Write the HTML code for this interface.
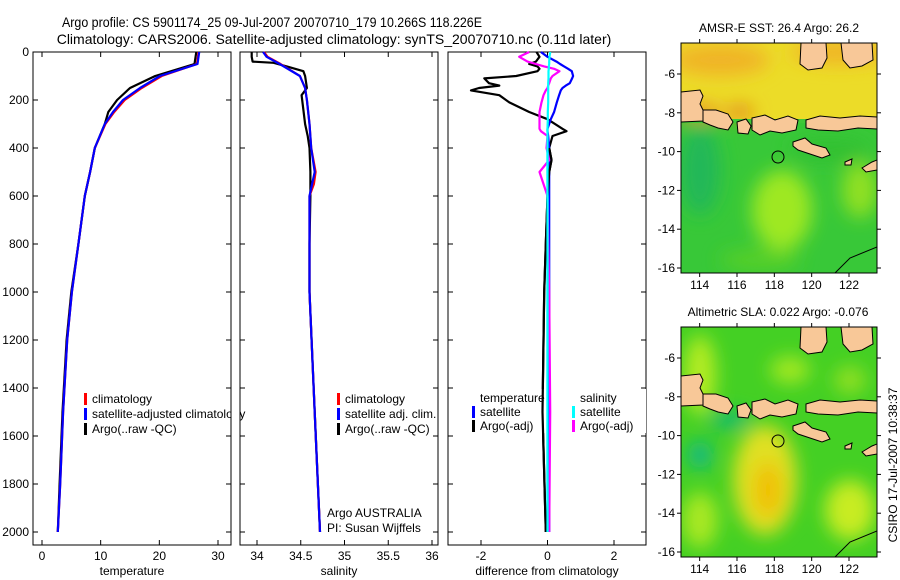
<!DOCTYPE html>
<html><head><meta charset="utf-8"><style>
html,body{margin:0;padding:0;background:#fff;}
svg{display:block;font-family:"Liberation Sans",sans-serif;}
</style></head><body>
<svg id="fig" width="900" height="580" viewBox="0 0 900 580" xmlns="http://www.w3.org/2000/svg">
<defs>
<filter id="blur" x="-20%" y="-20%" width="140%" height="140%"><feGaussianBlur stdDeviation="9"/></filter>
<clipPath id="clipM1"><rect x="681" y="43" width="196" height="230"/></clipPath>
<clipPath id="clipM2"><rect x="681" y="327" width="196" height="230"/></clipPath>
<g id="land" stroke="#000" stroke-width="1" fill="#f8c898">
<path d="M681,92 L700,90 L703,96 L700,104 L704,112 L703,121 L681,122 Z"/>
<path d="M703,110 L716,110 L728,114 L733,122 L728,130 L718,128 L710,125 L703,122 Z"/>
<path d="M737,122 L746,119 L751,126 L748,134 L738,133 Z"/>
<path d="M752,118 L765,115 L775,120 L788,116 L798,120 L796,130 L782,133 L770,131 L760,135 L752,130 Z"/>
<path d="M806,120 L820,116 L840,118 L860,116 L877,117 L877,129 L858,128 L838,131 L818,130 L806,128 Z"/>
<path d="M793,142 L805,138 L812,144 L826,148 L830,155 L822,158 L810,154 L798,150 L793,146 Z"/>
<path d="M801,43 L826,43 L827,58 L822,68 L808,70 L800,64 Z"/>
<path d="M841,43 L872,43 L873,60 L862,66 L850,68 L843,60 Z"/>
<path d="M845,162 L852,159 L851,165 L845,165 Z"/>
<path d="M862,168 L872,162 L877,160 L877,170 L866,172 Z"/>
</g>
</defs>

<!-- Titles -->
<text x="62" y="27" font-size="14" textLength="420" lengthAdjust="spacingAndGlyphs">Argo profile: CS 5901174_25 09-Jul-2007 20070710_179 10.266S 118.226E</text>
<text x="334" y="44" font-size="14" text-anchor="middle">Climatology: CARS2006. Satellite-adjusted climatology: synTS_20070710.nc (0.11d later)</text>

<g id="panels"></g>

<!-- Map 1 -->
<g>
<text x="779" y="32" font-size="12" text-anchor="middle">AMSR-E SST: 26.4 Argo: 26.2</text>
<g clip-path="url(#clipM1)">
<rect x="681" y="43" width="196" height="230" fill="#38c838"/>
<rect x="681" y="43" width="196" height="76" fill="#ecdc28"/>
<g filter="url(#blur)">
<ellipse cx="720" cy="60" rx="50" ry="16" fill="#f0b428"/>
<ellipse cx="840" cy="52" rx="50" ry="12" fill="#f0b428"/>
<ellipse cx="700" cy="112" rx="22" ry="8" fill="#e89420"/>
<ellipse cx="740" cy="112" rx="14" ry="6" fill="#e07818"/>
<ellipse cx="700" cy="170" rx="20" ry="45" fill="#20b858"/>
<ellipse cx="782" cy="210" rx="30" ry="40" fill="#9ee820"/>
<ellipse cx="860" cy="190" rx="18" ry="28" fill="#90e020"/>
<ellipse cx="830" cy="150" rx="40" ry="12" fill="#30c030"/>
<ellipse cx="760" cy="260" rx="40" ry="10" fill="#58d028"/>
</g>
<rect x="681" y="119" width="196" height="4" fill="#40c838"/>
<use href="#land"/>
<path d="M835,273 L850,258 L877,247" fill="none" stroke="#000" stroke-width="1"/>
<circle cx="778" cy="157" r="6" fill="none" stroke="#000" stroke-width="1"/>
</g>
<rect x="681" y="43" width="196" height="230" fill="none" stroke="#000" stroke-width="1"/>
<g id="map1axes"></g>
</g>

<!-- Map 2 -->
<g>
<text x="778" y="316" font-size="12" text-anchor="middle">Altimetric SLA: 0.022 Argo: -0.076</text>
<g clip-path="url(#clipM2)">
<rect x="681" y="327" width="196" height="230" fill="#44d024"/>
<g filter="url(#blur)">
<ellipse cx="700" cy="375" rx="16" ry="40" fill="#b4ec20"/>
<ellipse cx="790" cy="370" rx="20" ry="14" fill="#a0e820"/>
<ellipse cx="850" cy="380" rx="16" ry="14" fill="#90e020"/>
<ellipse cx="700" cy="455" rx="12" ry="14" fill="#10b888"/>
<ellipse cx="730" cy="420" rx="22" ry="8" fill="#10b878"/>
<ellipse cx="765" cy="480" rx="32" ry="55" fill="#e0e020"/>
<ellipse cx="768" cy="490" rx="14" ry="28" fill="#f0c000"/>
<ellipse cx="700" cy="520" rx="18" ry="28" fill="#a8e820"/>
<ellipse cx="850" cy="510" rx="25" ry="30" fill="#c8ec20"/>
</g>
<use href="#land" y="284"/>
<path d="M835,557 L850,542 L877,531" fill="none" stroke="#000" stroke-width="1"/>
<circle cx="778" cy="441" r="6" fill="none" stroke="#000" stroke-width="1"/>
</g>
<rect x="681" y="327" width="196" height="230" fill="none" stroke="#000" stroke-width="1"/>
<g id="map2axes"></g>
</g>

<text transform="translate(897,465) rotate(-90)" font-size="12" text-anchor="middle">CSIRO 17-Jul-2007 10:38:37</text>
</svg>

<script>
// ---- Data ----
const depthT = [0, 50, 100, 150, 200, 250, 300, 400, 500, 600, 800, 1000, 1200, 1500, 1800, 2000];
const climTemp = [26.7, 26.4, 20.4, 17.0, 14.1, 12.3, 10.8, 9.0, 8.2, 7.3, 6.2, 5.1, 4.3, 3.6, 3.1, 2.7];
const satTemp  = [26.8, 26.5, 20.1, 16.7, 13.8, 12.1, 10.7, 9.0, 8.2, 7.3, 6.2, 5.1, 4.3, 3.6, 3.1, 2.7];
const argoTemp = [26.3, 26.0, 19.3, 15.0, 12.8, 11.3, 10.7, 9.0, 8.2, 7.3, 6.2, 5.0, 4.2, 3.5, 3.0, 2.7];

const depthS = [0, 20, 50, 100, 150, 200, 300, 400, 500, 550, 600, 800, 1000, 1500, 2000];
const climSal = [34.08, 34.12, 34.27, 34.49, 34.55, 34.57, 34.60, 34.62, 34.67, 34.65, 34.60, 34.60, 34.60, 34.66, 34.72];
const satSal  = [34.07, 34.11, 34.26, 34.49, 34.55, 34.57, 34.60, 34.62, 34.66, 34.63, 34.60, 34.60, 34.60, 34.66, 34.72];
const depthSA = [0, 20, 40, 45, 60, 80, 100, 150, 180, 300, 350, 400, 500, 600, 800, 1000, 1500, 2000];
const argoSal = [33.94, 33.94, 33.95, 34.19, 34.34, 34.53, 34.55, 34.57, 34.51, 34.55, 34.58, 34.60, 34.61, 34.61, 34.60, 34.60, 34.66, 34.72];

const depthD = [0, 20, 40, 50, 60, 70, 80, 100, 110, 130, 140, 150, 160, 180, 210, 250, 280, 320, 330, 350, 400, 450, 500, 600, 800, 1000, 1500, 2000];
const tempDiffSat  = [-0.2, 0.0, 0.27, 0.38, 0.5, 0.62, 0.73, 0.77, 0.74, 0.67, 0.55, 0.45, 0.40, 0.35, 0.28, 0.2, 0.1, 0.0, 0.0, 0.02, 0.05, 0.05, 0.05, 0.05, 0.05, 0.05, 0.05, 0.05];
const tempDiffArgo = [-0.33, -0.24, -0.35, -0.55, -0.3, -0.24, -0.3, -0.94, -1.9, -1.76, -1.45, -2.06, -2.3, -1.45, -1.15, -0.55, 0.0, 0.45, 0.57, 0.15, 0.05, 0.12, 0.05, 0.0, -0.05, -0.1, -0.15, -0.05];
const salDiffSat   = [0.08, 0.06, 0.05, 0.05, 0.04, 0.04, 0.03, 0.03, 0.03, 0.02, 0.02, 0.02, 0.02, 0.02, 0.02, 0.01, 0.01, 0.0, 0.0, 0.0, 0.0, 0.0, 0.0, 0.0, 0.0, 0.0, 0.0, 0.0];
const salDiffArgo  = [-0.55, -0.85, -0.6, -0.35, -0.1, 0.2, 0.36, 0.15, 0.1, 0.05, 0.02, 0.0, -0.05, -0.12, -0.18, -0.24, -0.24, -0.24, -0.2, 0.0, -0.03, 0.05, -0.24, 0.0, 0.02, 0.05, 0.08, 0.05];

const depthTicks = [0, 200, 400, 600, 800, 1000, 1200, 1400, 1600, 1800, 2000];
const tempTicks = [0, 10, 20, 30];
const salTicks = [34, 34.5, 35, 35.5, 36];
const diffTicks = [-2, 0, 2];
const lonTicks = [114, 116, 118, 120, 122];
const latTicks = [-6, -8, -10, -12, -14, -16];

// ---- Axes ----
const NS = 'http://www.w3.org/2000/svg';
const yTop = 52, yScale = 0.24;
function yDepth(d){ return yTop + d * yScale; }
function lin(d0, d1, r0, r1){ return v => r0 + (v - d0) * (r1 - r0) / (d1 - d0); }
const xTemp = lin(0, 30, 42, 218);
const xSal = lin(34, 36, 257, 432);
const xDiff = lin(-2, 2, 481, 614);

const root = document.getElementById('panels');
function mk(tag, attrs, parent){
  const e = document.createElementNS(NS, tag);
  for (const k in attrs) e.setAttribute(k, attrs[k]);
  (parent || root).appendChild(e);
  return e;
}

function panel(name, x0, x1, xfn, ticks, label, showDepth){
  const g = mk('g', {});
  
  
  const box = mk('rect', {x:x0, y:52, width:x1-x0, height:493, fill:'none', stroke:'#000', 'stroke-width':1}, g);
  
  
  ticks.forEach(t => {
    const x = xfn(t);
    mk('line', {x1:x, x2:x, y1:545, y2:540, stroke:'#000'}, g);
    mk('line', {x1:x, x2:x, y1:52, y2:57, stroke:'#000'}, g);
    const tx = mk('text', {x:x, y:560, 'font-size':12, 'text-anchor':'middle'}, g);
    tx.textContent = String(t);
    
    
  });
  depthTicks.forEach(d => {
    const y = yDepth(d);
    mk('line', {x1:x0, x2:x0+5, y1:y, y2:y, stroke:'#000'}, g);
    mk('line', {x1:x1, x2:x1-5, y1:y, y2:y, stroke:'#000'}, g);
    if (showDepth){
      const tx = mk('text', {x:x0-4, y:y+4, 'font-size':12, 'text-anchor':'end'}, g);
      tx.textContent = String(d);
      
      
    }
  });
  const lab = mk('text', {x:(x0+x1)/2, y:575, 'font-size':12, 'text-anchor':'middle'}, g);
  lab.textContent = label;
  
  
  return g;
}

function series(g, depths, vals, xfn, color, name){
  const pts = depths.map((d,i) => xfn(vals[i]).toFixed(1) + ',' + yDepth(d).toFixed(1)).join(' ');
  const p = mk('polyline', {points:pts, fill:'none', stroke:color, 'stroke-width':2.2, 'stroke-linejoin':'round'}, g);
  
  
}

function legendEntry(g, x, y, color, text){
  if (color){
    const r = mk('rect', {x:x, y:y-10, width:3, height:12, fill:color}, g);
    
    
  }
  const t = mk('text', {x:x+8, y:y, 'font-size':12}, g);
  t.textContent = text;
  
  
}

// Panel 1
const p1 = panel('temperature-panel', 33, 231, xTemp, tempTicks, 'temperature', true);
series(p1, depthT, argoTemp, xTemp, '#000', 'argo-temperature-line');
series(p1, depthT, climTemp, xTemp, '#f00', 'climatology-temperature-line');
series(p1, depthT, satTemp, xTemp, '#00f', 'satellite-temperature-line');
const l1 = mk('g', {}, p1);


legendEntry(l1, 84, 403, '#f00', 'climatology');
legendEntry(l1, 84, 418, '#00f', 'satellite-adjusted climatology');
legendEntry(l1, 84, 433, '#000', 'Argo(..raw -QC)');
mk('rect', {x:231.5, y:405, width:8, height:20, fill:'#fff'}, p1);

// Panel 2
const p2 = panel('salinity-panel', 240, 438, xSal, salTicks, 'salinity', false);
series(p2, depthSA, argoSal, xSal, '#000', 'argo-salinity-line');
series(p2, depthS, climSal, xSal, '#f00', 'climatology-salinity-line');
series(p2, depthS, satSal, xSal, '#00f', 'satellite-salinity-line');
const l2 = mk('g', {}, p2);


legendEntry(l2, 337, 403, '#f00', 'climatology');
legendEntry(l2, 337, 418, '#00f', 'satellite adj. clim.');
legendEntry(l2, 337, 433, '#000', 'Argo(..raw -QC)');
const a1 = mk('text', {x:327, y:517, 'font-size':12}, p2);
a1.textContent = 'Argo AUSTRALIA';


const a2 = mk('text', {x:327, y:532, 'font-size':12}, p2);
a2.textContent = 'PI: Susan Wijffels';



// Panel 3
const p3 = panel('difference-panel', 448, 646, xDiff, diffTicks, 'difference from climatology', false);
series(p3, depthD, tempDiffArgo, xDiff, '#000', 'argo-temperature-diff-line');
series(p3, depthD, tempDiffSat, xDiff, '#00f', 'satellite-temperature-diff-line');
series(p3, depthD, salDiffArgo, xDiff, '#f0f', 'argo-salinity-diff-line');
series(p3, depthD, salDiffSat, xDiff, '#0ff', 'satellite-salinity-diff-line');
const l3 = mk('g', {}, p3);


mk('rect', {x:478, y:389, width:68, height:44, fill:'#fff'}, l3);
mk('rect', {x:578, y:389, width:68, height:44, fill:'#fff'}, l3);
series(p3, depthD.slice(20), tempDiffArgo.slice(20), xDiff, '#000', 'argo-temperature-diff-deep');
series(p3, depthD.slice(20), salDiffSat.slice(20), xDiff, '#0ff', 'satellite-salinity-diff-deep');
legendEntry(l3, 472, 402, null, 'temperature');
legendEntry(l3, 472, 416, '#00f', 'satellite');
legendEntry(l3, 472, 430, '#000', 'Argo(-adj)');
legendEntry(l3, 572, 402, null, 'salinity');
legendEntry(l3, 572, 416, '#0ff', 'satellite');
legendEntry(l3, 572, 430, '#f0f', 'Argo(-adj)');

// Map axes
const xLon = lin(113, 123.5, 681, 877);
function mapAxes(id, top, latY){
  const g = document.getElementById(id);
  lonTicks.forEach(l => {
    const x = xLon(l);
    mk('line', {x1:x, x2:x, y1:top, y2:top-4, stroke:'#000'}, g);
    mk('line', {x1:x, x2:x, y1:top+230, y2:top+234, stroke:'#000'}, g);
    const t = mk('text', {x:x, y:top+246, 'font-size':12, 'text-anchor':'middle'}, g);
    t.textContent = String(l);
    
    
  });
  latTicks.forEach(l => {
    const y = latY(l);
    mk('line', {x1:877, x2:881, y1:y, y2:y, stroke:'#000'}, g);
    mk('line', {x1:681, x2:677, y1:y, y2:y, stroke:'#000'}, g);
    const t = mk('text', {x:675, y:y+4, 'font-size':12, 'text-anchor':'end'}, g);
    t.textContent = String(l);
    
    
  });
}
mapAxes('map1axes', 43, lin(-6, -16, 74, 268));
mapAxes('map2axes', 327, lin(-6, -16, 358, 552));
</script>
</body></html>
